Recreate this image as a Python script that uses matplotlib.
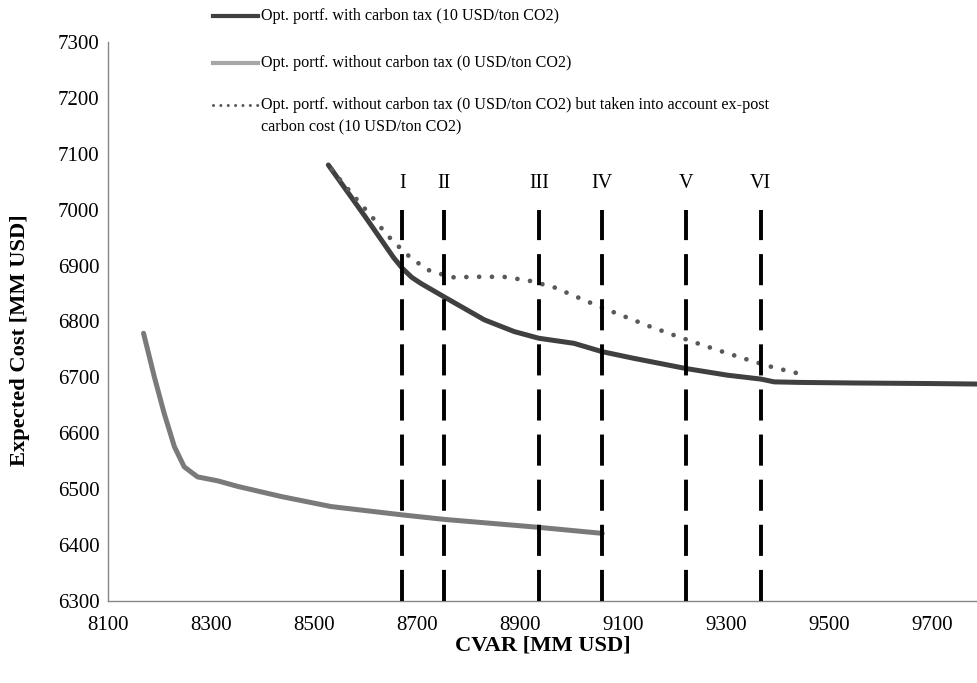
import matplotlib.pyplot as plt
from matplotlib.lines import Line2D

# CVaR / expected cost [MM USD]
cvar_tax = [8528, 8600, 8655, 8672, 8690, 8708, 8753, 8831, 8889, 8937, 9005,
            9060, 9122, 9222, 9303, 9368, 9394, 9446, 9550, 9700, 9800]
cost_tax = [7080, 6987, 6914, 6895, 6879, 6868, 6844, 6803, 6782, 6770, 6761,
            6746, 6734, 6716, 6704, 6697, 6692, 6691, 6690, 6689, 6688]

cvar_notax = [8169, 8190, 8209, 8229, 8248, 8274, 8313, 8352, 8436, 8533,
              8672, 8753, 8934, 9060]
cost_notax = [6779, 6701, 6636, 6576, 6540, 6522, 6515, 6505, 6487, 6469,
              6454, 6446, 6432, 6421]

cvar_expost = [8535, 8546, 8578, 8611, 8644, 8679, 8719, 8767, 8818, 8868, 8918,
               8967, 9013, 9059, 9106, 9153, 9201, 9248, 9297, 9345, 9392, 9441, 9450]
cost_expost = [7072, 7059, 7024, 6989, 6953, 6921, 6893, 6879, 6880, 6880, 6873,
               6861, 6843, 6825, 6808, 6791, 6775, 6760, 6745, 6731, 6718, 6707, 6705]

mark_cvar = [8672, 8752, 8937, 9060, 9222, 9368]
mark_labels = ["I", "II", "III", "IV", "V", "VI"]
mark_top = 7000
mark_label_y = 7046

labels = ["Opt. portf. with carbon tax (10 USD/ton CO2)",
          "Opt. portf. without carbon tax (0 USD/ton CO2)",
          "Opt. portf. without carbon tax (0 USD/ton CO2) but taken into account ex-post\n"
          "carbon cost (10 USD/ton CO2)"]

serif = ["Liberation Serif", "DejaVu Serif"]
W, H = 977, 683

fig = plt.figure(figsize=(W / 100, H / 100), dpi=100)
ax = fig.add_axes([108 / W, 82 / H, 1 - 108 / W, 559 / H])

ax.plot(cvar_tax, cost_tax, color="#404040", lw=3.6, solid_capstyle="round", zorder=3)
ax.plot(cvar_notax, cost_notax, color="#7a7a7a", lw=3.6, solid_capstyle="round", zorder=3)
ax.plot(cvar_expost, cost_expost, color="#595959", lw=3.4, linestyle=(0, (0.01, 2.7)),
        dash_capstyle="round", zorder=3)

for xv, lab in zip(mark_cvar, mark_labels):
    ax.plot([xv, xv], [6300, mark_top], color="black", lw=2.8,
            linestyle=(0, (8.0, 3.6)), zorder=4)
    ax.text(xv, mark_label_y, lab, ha="center", va="center", fontsize=14.5,
            family=serif)

ax.set_xlim(8100, 9788)
ax.set_ylim(6300, 7300)
ax.set_xticks(range(8100, 9701, 200))
ax.set_yticks(range(6300, 7301, 100))
ax.tick_params(length=0, labelsize=15)
ax.tick_params(axis="x", pad=11)
ax.tick_params(axis="y", pad=6)
for t in ax.get_xticklabels() + ax.get_yticklabels():
    t.set_family(serif)
for s in ["top", "right"]:
    ax.spines[s].set_visible(False)
for s in ["left", "bottom"]:
    ax.spines[s].set_color("#868686")
    ax.spines[s].set_linewidth(1.0)

ax.set_xlabel("CVAR [MM USD]", fontsize=16.2, fontweight="bold", family=serif, labelpad=0)
ax.set_ylabel("Expected Cost [MM USD]", fontsize=16.2, fontweight="bold", family=serif)
ax.yaxis.set_label_coords(-0.09, 0.467)

# legend drawn in figure pixels, above the plot area like the original
handle_styles = [dict(color="#404040", lw=3),
                 dict(color="#a6a6a6", lw=3),
                 dict(color="#595959", lw=2.2, linestyle=(0, (0.01, 2.4)),
                      dash_capstyle="round")]
entry_y = [16, 63, 105]
for style, lab, yy in zip(handle_styles, labels, entry_y):
    fig.add_artist(Line2D([213 / W, 258 / W], [1 - yy / H, 1 - yy / H],
                          transform=fig.transFigure, **style))
    fig.text(261 / W, 1 - (yy - 8) / H, lab, ha="left", va="top", fontsize=11.6,
             family=serif, linespacing=1.45)

fig.savefig("out.png", dpi=100)
